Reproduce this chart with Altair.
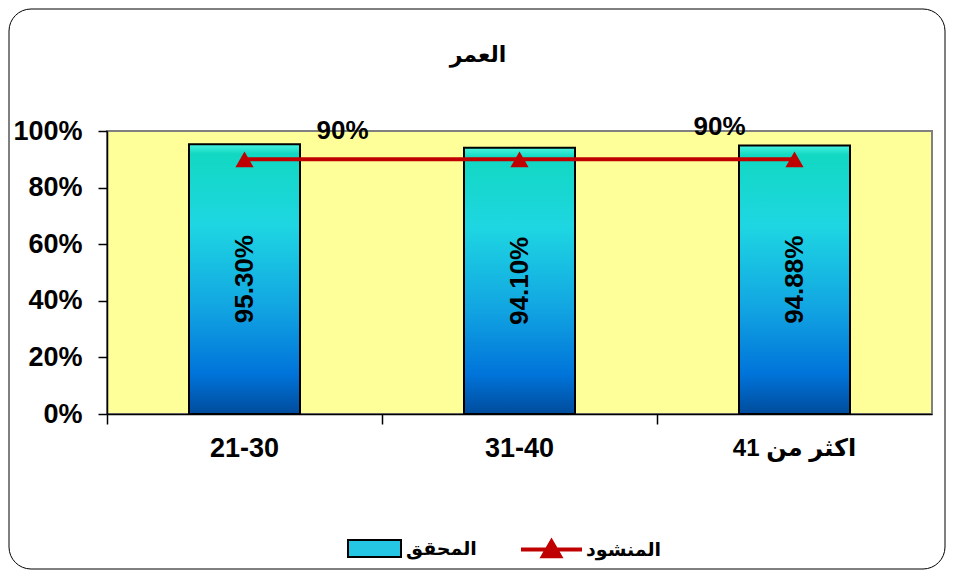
import altair as alt
import pandas as pd

categories = ["21-30", "31-40", "اكثر من 41"]
actual = [0.953, 0.941, 0.9488]
actual_labels = ["95.30%", "94.10%", "94.88%"]
target = [0.90, 0.90, 0.90]
y_ticks = [0, 0.2, 0.4, 0.6, 0.8, 1.0]
title_text = "العمر"

FONT = "Liberation Sans, Arial, DejaVu Sans"

df = pd.DataFrame({
    "cat": categories,
    "actual": actual,
    "label": actual_labels,
    "target": target,
})

bar_gradient = {
    "gradient": "linear", "x1": 0, "y1": 0, "x2": 0, "y2": 1,
    "stops": [
        {"offset": 0.0, "color": "#48F4E0"},
        {"offset": 0.035, "color": "#12D8C2"},
        {"offset": 0.3, "color": "#1ED6E2"},
        {"offset": 0.6, "color": "#12A6E2"},
        {"offset": 0.85, "color": "#0074DA"},
        {"offset": 1.0, "color": "#004C9C"},
    ],
}

x_axis = alt.Axis(labelAngle=0, labelFont=FONT,
                  labelFontSize={"condition": {"test": f"datum.value === '{categories[2]}'",
                                               "value": 24}, "value": 27},
                  labelFontWeight="bold", labelColor="black",
                  labelBaseline="middle",
                  labelPadding=24, tickSize=10, tickColor="black",
                  tickWidth=1.5, bandPosition=0, domainColor="black",
                  domainWidth=1.5, grid=False, title=None, labelLimit=300)
y_axis = alt.Axis(values=y_ticks, format=".0%", labelFont=FONT,
                  labelFontSize=27, labelFontWeight="bold",
                  labelColor="black", labelPadding=16, tickSize=9,
                  tickColor="black", tickWidth=1.5,
                  domainColor="black", domainWidth=1.5, grid=False, title=None)
x_scale = alt.Scale(paddingInner=0, paddingOuter=0)
y_scale = alt.Scale(domain=[0, 1])


def X():
    return alt.X("cat:N", sort=categories, title=None, scale=x_scale, axis=x_axis)


def Y(field):
    return alt.Y(field, title=None, scale=y_scale, axis=y_axis)


base = alt.Chart(df)

bars = base.mark_bar(size=111, fill=bar_gradient, stroke="black",
                     strokeWidth=2).encode(
    x=X(),
    y=Y("actual:Q"),
    color=alt.Color("s:N", scale=alt.Scale(domain=["المحقق"], range=["#24C6E4"]),
                    legend=alt.Legend(
                        title=None, orient="none", legendX=240, legendY=390,
                        symbolType="M-1,-0.32H1V0.32H-1Z", symbolSize=2809,
                        symbolStrokeColor="black", symbolStrokeWidth=2,
                        labelFont=FONT, labelFontSize=19, labelFontWeight="bold",
                        labelColor="black", labelOffset=4,
                        labelLimit=300)),
).transform_calculate(s="'المحقق'")

bar_text = base.mark_text(angle=270, font=FONT, fontSize=26,
                          fontWeight="bold", color="black").encode(
    x=X(),
    y=Y("mid:Q"),
    text="label:N",
).transform_calculate(mid="datum.actual / 2")

line = base.mark_line(strokeWidth=4).encode(
    x=X(),
    y=Y("target:Q"),
    stroke=alt.Stroke("t:N", scale=alt.Scale(domain=["المنشود"], range=["#C00000"]),
                      legend=alt.Legend(
                          title=None, orient="none", legendX=412, legendY=386,
                          symbolType="M-1,0H1M-0.28,0.22L0,-0.26L0.28,0.22Z",
                          symbolSize=3721, symbolStrokeWidth=4,
                          symbolFillColor="#C00000",
                          symbolStrokeColor="#C00000",
                          labelFont=FONT, labelFontSize=19, labelFontWeight="bold",
                          labelColor="black", labelOffset=2, labelLimit=300)),
).transform_calculate(t="'المنشود'")

markers = base.mark_point(shape="triangle-up", filled=True, size=330,
                          color="#C00000", opacity=1).encode(
    x=X(),
    y=Y("target:Q"),
)

lbl1 = base.mark_text(font=FONT, fontSize=26, fontWeight="bold", color="black",
                      dx=98, dy=-28).encode(
    x=X(),
    y=Y("target:Q"),
    text=alt.Text("target:Q", format=".0%"),
).transform_filter(alt.datum.cat == categories[0])

lbl3 = base.mark_text(font=FONT, fontSize=26, fontWeight="bold", color="black",
                      dx=-75, dy=-32).encode(
    x=X(),
    y=Y("target:Q"),
    text=alt.Text("target:Q", format=".0%"),
).transform_filter(alt.datum.cat == categories[2])

frame = alt.Chart(pd.DataFrame({"k": [0]})).mark_rect(
    fill=None, stroke="black", strokeWidth=1, cornerRadius=22
).encode(
    x=alt.value(-98), x2=alt.value(838),
    y=alt.value(-122), y2=alt.value(438),
)

title = alt.Chart(pd.DataFrame({"t": [title_text]})).mark_text(
    font=FONT, fontSize=22, fontWeight="bold", color="black"
).encode(
    x=alt.value(371), y=alt.value(-76), text="t:N",
)

chart = alt.layer(bars, bar_text, line, markers, lbl1, lbl3, title, frame).resolve_scale(
    color="independent", stroke="independent"
).properties(
    width=825, height=283,
    padding={"left": 99, "top": 123, "right": 15, "bottom": 156},
    autosize=alt.AutoSizeParams(type="none"),
).configure(background="white").configure_view(
    fill="#FFFF99", stroke="#808080", strokeWidth=2
)

chart.save("out.html", embed_options={"renderer": "svg", "actions": False})
